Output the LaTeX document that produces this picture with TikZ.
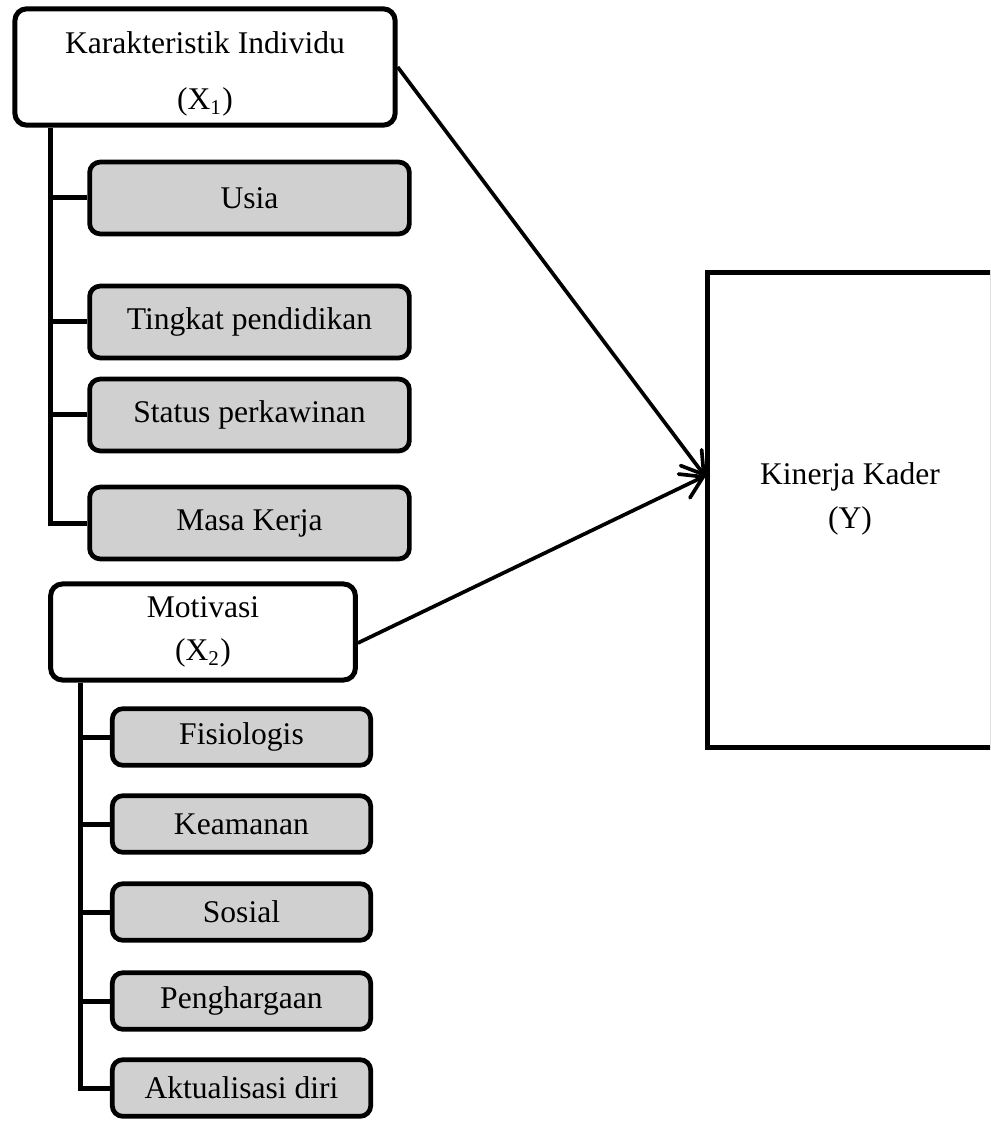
\documentclass[tikz,border=0pt]{standalone}
\usepackage{fontspec}
\setmainfont{Liberation Serif}
\usepackage{xcolor}
\definecolor{subgray}{RGB}{208,208,208}
\usepackage{tikz}
\usetikzlibrary{arrows.meta}

\begin{document}
\begin{tikzpicture}[x=0.38pt, y=-0.38pt,
  every node/.style={font=\fontsize{12}{16.5}\selectfont, align=center},
  varbox/.style={draw, line width=1.9pt, rounded corners=4.5pt, fill=white},
  subbox/.style={draw, line width=1.8pt, rounded corners=4pt, fill=subgray},
  link/.style={line width=1.9pt},
  arr/.style={line width=1.4pt, -{Straight Barb[length=8pt,width=10pt,line width=1.4pt,round]}}]
  \useasboundingbox (0,0) rectangle (990,1122);
  \clip (0,0) rectangle (990,1122);
  \node[varbox, minimum width=144.5pt, minimum height=44pt] (x1) at (205,67) {\rule{0pt}{13.5pt}Karakteristik Individu\\[5pt](X\textsubscript{1})};
  \node[subbox, minimum width=121.5pt, minimum height=27.3pt] (usia) at (249.5,198) {Usia};
  \node[subbox, minimum width=121.5pt, minimum height=27.3pt] (tingkat) at (249.5,322) {Tingkat pendidikan};
  \node[subbox, minimum width=121.5pt, minimum height=27.3pt] (status) at (249.5,415) {Status perkawinan};
  \node[subbox, minimum width=121.5pt, minimum height=27.3pt] (masa) at (249.5,523) {Masa Kerja};
  \node[varbox, inner ysep=1.5pt, minimum width=115.8pt, minimum height=36.5pt] (x2) at (203,632) {Motivasi\\(X\textsubscript{2})};
  \node[subbox, minimum width=98.2pt, minimum height=21.5pt] (fisio) at (241.5,737) {Fisiologis};
  \node[subbox, minimum width=98.2pt, minimum height=21.5pt] (aman) at (241.5,824) {Keamanan};
  \node[subbox, minimum width=98.2pt, minimum height=21.5pt] (sosial) at (241.5,912) {Sosial};
  \node[subbox, minimum width=98.2pt, minimum height=21.5pt] (harga) at (241.5,1001) {Penghargaan};
  \node[subbox, minimum width=98.2pt, minimum height=21.5pt] (aktual) at (241.5,1088) {Aktualisasi diri};
  \node[draw, line width=1.8pt, minimum width=108.5pt, minimum height=180.5pt] (y) at (850,510) {Kinerja Kader\\(Y)\rule[-11pt]{0pt}{1pt}};
  \coordinate (s1) at (50,0);
  \coordinate (s2) at (80,0);
  \draw[link] (x1.south -| s1) |- (masa.west);
  \foreach \n in {usia,tingkat,status} \draw[link] (\n.west) -- (\n.west -| s1);
  \draw[link] (x2.south -| s2) |- (aktual.west);
  \foreach \n in {fisio,aman,sosial,harga} \draw[link] (\n.west) -- (\n.west -| s2);
  \draw[arr] (x1.east) -- (y.west |- 0,476);
  \draw[arr] (x2.east |- 0,643) -- (y.west |- 0,476);
\end{tikzpicture}
\end{document}
